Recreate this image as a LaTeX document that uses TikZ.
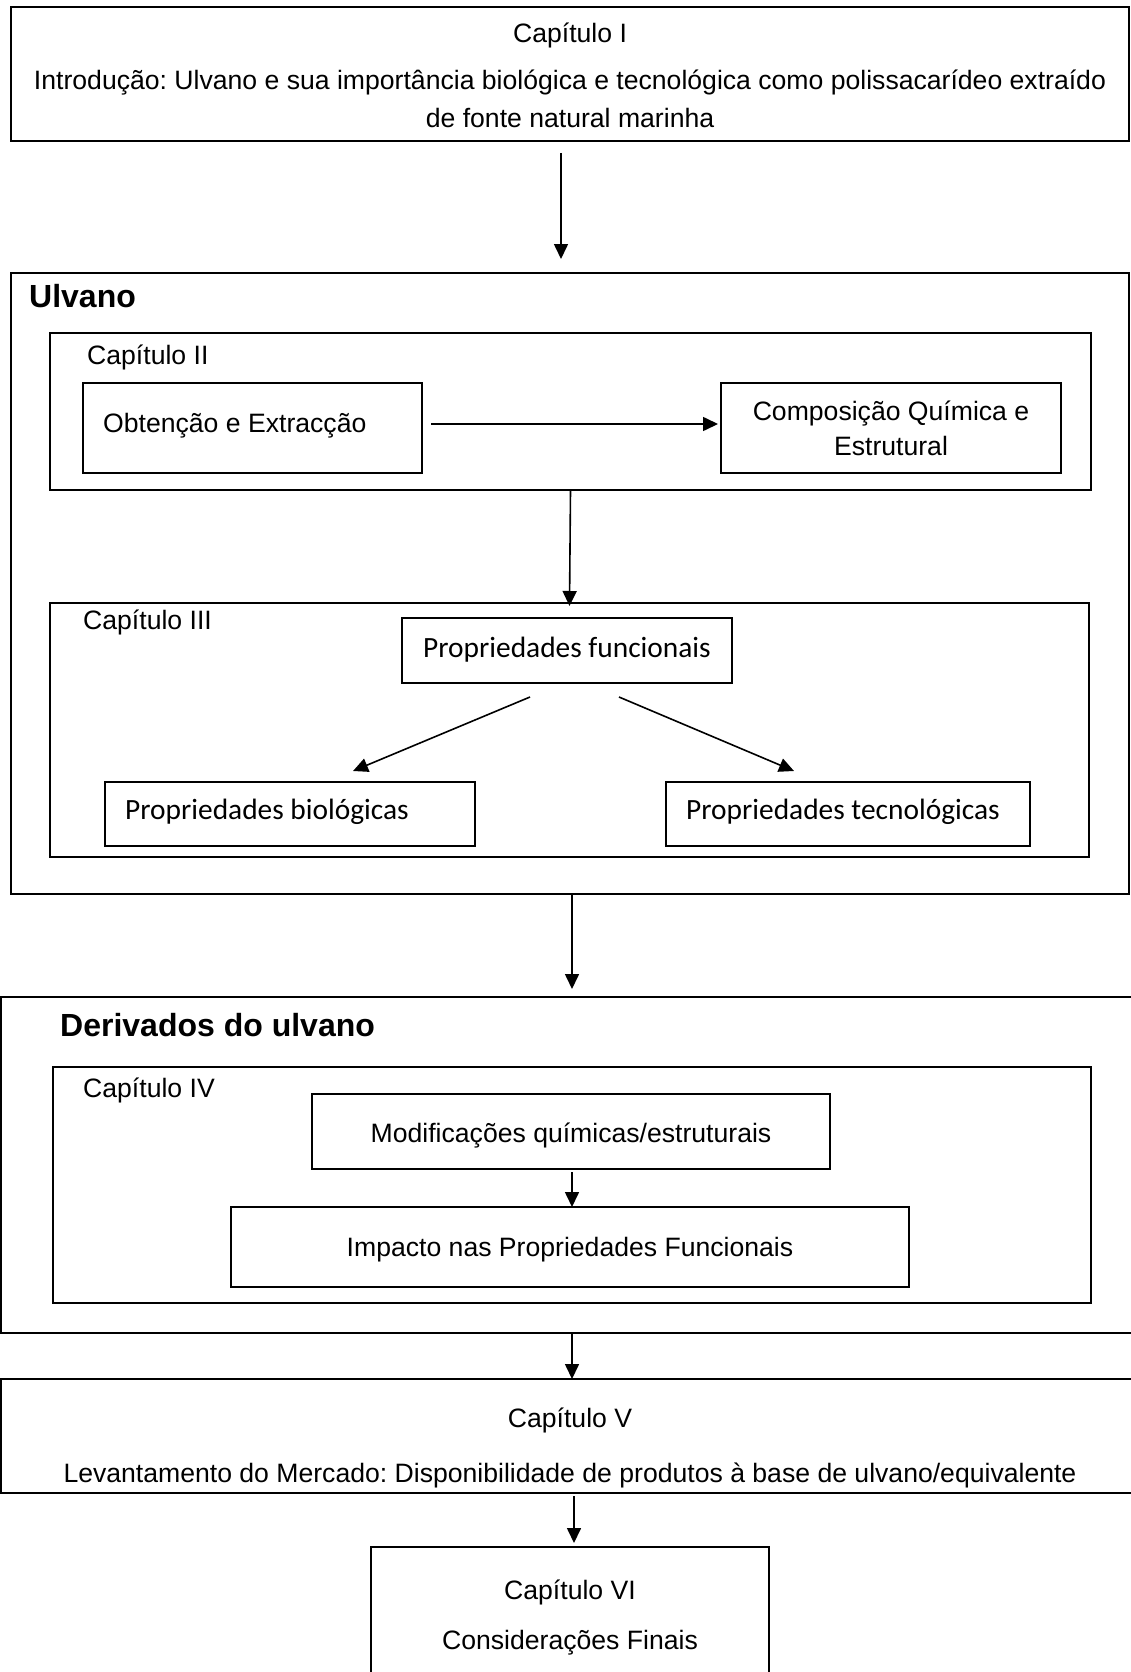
\documentclass[tikz,border=0pt]{standalone}
\usepackage{fontspec}
\setmainfont{Liberation Sans}
\newfontfamily\calib{Carlito}
\usetikzlibrary{arrows.meta,calc}
\frenchspacing
\begin{document}
\begin{tikzpicture}[x=1pt,y=-1pt,
  box/.style={draw, line width=1.8pt, inner sep=0pt, outer sep=0pt, anchor=north west},
  txt/.style={inner sep=0pt, font=\fontsize{26.6}{30}\selectfont},
  ltxt/.style={txt, anchor=west},
  ctxt/.style={inner sep=0pt, font=\calib\fontsize{29.4}{34}\selectfont},
  btxt/.style={inner sep=0pt, anchor=west, font=\bfseries\fontsize{32}{36}\selectfont},
  arr/.style={line width=1.6pt, -{Triangle[length=15pt,width=14pt]}}]
\useasboundingbox (0,0) rectangle (1131,1672);
\clip (0,0) rectangle (1131,1672);
% Chapter I
\node[box, minimum width=1118pt, minimum height=134pt] (c1) at (11,7) {};
\node[txt] (c1a) at (570,35) {Capítulo I};
\node[txt] (c1b) at (570,83) {Introdução: Ulvano e sua importância biológica e tecnológica como polissacarídeo extraído};
\node[txt] (c1c) at (570,118) {de fonte natural marinha};
% Ulvano
\node[box, minimum width=1118pt, minimum height=621pt] (ulv) at (11,273) {};
\node[btxt] (ulvt) at (29,296) {Ulvano};
\draw[arr, shorten <=12pt, shorten >=14pt] ([xshift=-9pt]c1.south) -- ([xshift=-9pt]ulv.north);
% Chapter II
\node[box, minimum width=1041pt, minimum height=157pt] (c2) at (50,333) {};
\node[ltxt] (c2t) at (87,357) {Capítulo II};
\node[box, minimum width=339pt, minimum height=90pt] (obt) at (83,383) {};
\node[ltxt] (obtt) at (103,426) {Obtenção e Extracção};
\node[box, minimum width=340pt, minimum height=90pt] (comp) at (721,383) {};
\node[txt, align=center, font=\fontsize{26.6}{35}\selectfont] (compt) at (891,428) {Composição Química e\\Estrutural};
\draw[arr] ([yshift=4pt,xshift=9pt]obt.east) -- ([yshift=4pt,xshift=-3pt]comp.west);
% Chapter III
\node[box, minimum width=1039pt, minimum height=254pt] (c3) at (50,603) {};
\node[ltxt] (c3t) at (83,622) {Capítulo III};
\draw[arr] (c2.south) -- ([yshift=-3pt]c3.north);
\node[box, minimum width=330pt, minimum height=65pt] (fun) at (402,618) {};
\node[ctxt] (funt) at (567,650) {Propriedades funcionais};
\node[box, minimum width=370pt, minimum height=64pt] (bio) at (105,782) {};
\node[ctxt, anchor=west] (biot) at (125,812) {Propriedades biológicas};
\node[box, minimum width=364pt, minimum height=64pt] (tec) at (666,782) {};
\node[ctxt, anchor=west] (tect) at (686,812) {Propriedades tecnológicas};
\draw[arr] ($(fun.south)+(-37,14)$) -- ($(bio.north)+(63,-11)$);
\draw[arr] ($(fun.south)+(52,14)$) -- ($(tec.north)+(-54,-11)$);
% Derivados
\node[box, minimum width=1150pt, minimum height=336pt] (der) at (1,997) {};
\draw[arr, shorten >=8pt] ([xshift=2pt]ulv.south) -- ([xshift=-4pt]der.north);
\node[btxt] (dert) at (60,1025) {Derivados do ulvano};
% Chapter IV
\node[box, minimum width=1038pt, minimum height=236pt] (c4) at (53,1067) {};
\node[ltxt] (c4t) at (83,1090) {Capítulo IV};
\node[box, minimum width=518pt, minimum height=75pt] (mod) at (312,1094) {};
\node[txt] (modt) at (571,1136) {Modificações químicas/estruturais};
\node[box, minimum width=678pt, minimum height=80pt] (imp) at (231,1207) {};
\node[txt] (impt) at (570,1250) {Impacto nas Propriedades Funcionais};
\draw[arr, shorten <=3pt] ([xshift=1pt]mod.south) -- ([xshift=2pt]imp.north);
% Chapter V
\node[box, minimum width=1150pt, minimum height=114pt] (c5) at (1,1379) {};
\draw[arr] ([xshift=-4pt]der.south) -- ([xshift=-4pt]c5.north);
\node[txt] (c5a) at (570,1420) {Capítulo V};
\node[txt] (c5b) at (570,1475) {Levantamento do Mercado: Disponibilidade de produtos à base de ulvano/equivalente};
% Chapter VI
\node[box, minimum width=398pt, minimum height=160pt] (c6) at (371,1547) {};
\draw[arr, shorten <=3pt, shorten >=4pt] ([xshift=-2pt]c5.south) -- ([xshift=4pt]c6.north);
\node[txt] (c6a) at (570,1592) {Capítulo VI};
\node[txt] (c6b) at (570,1643) {Considerações Finais};
\end{tikzpicture}
\end{document}
